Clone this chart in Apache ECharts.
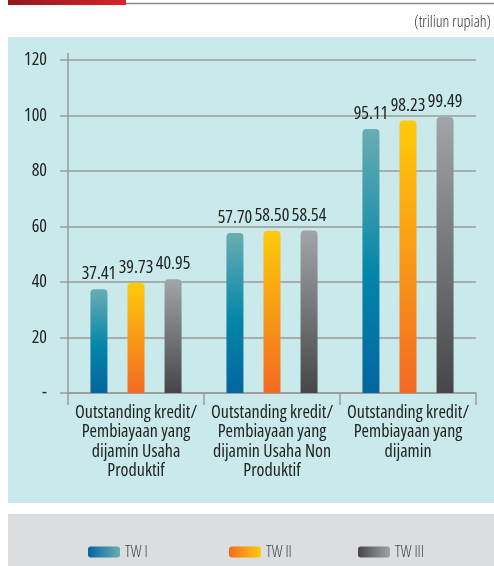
<!DOCTYPE html>
<html>
<head>
<meta charset="utf-8">
<script src="https://cdn.jsdelivr.net/npm/echarts@6/dist/echarts.min.js"></script>
<style>html,body{margin:0;padding:0;background:#fff;}#c{width:494px;height:566px;}</style>
</head>
<body>
<div id="c"></div>
<script>
var categories = [
  'Outstanding kredit/\nPembiayaan yang\ndijamin Usaha\nProduktif',
  'Outstanding kredit/\nPembiayaan yang\ndijamin Usaha Non\nProduktif',
  'Outstanding kredit/\nPembiayaan yang\ndijamin'
];
var seriesNames = ['TW I', 'TW II', 'TW III'];
var tw1 = [37.41, 57.70, 95.11];
var tw2 = [39.73, 58.50, 98.23];
var tw3 = [40.95, 58.54, 99.49];
var yTicks = [0, 20, 40, 60, 80, 100, 120];

var FONT = "'Open Sans','Roboto Condensed',sans-serif";
var COND = 'condensed';
function vgrad(stops){return new echarts.graphic.LinearGradient(0,0,0,1,stops);}
function hgrad(stops){return new echarts.graphic.LinearGradient(0,0,1,0,stops);}
var barColors = [
  vgrad([{offset:0,color:'#6aadb3'},{offset:0.55,color:'#0386a8'},{offset:1,color:'#0565a0'}]),
  vgrad([{offset:0,color:'#ffca0a'},{offset:1,color:'#f26a22'}]),
  vgrad([{offset:0,color:'#a3a4a8'},{offset:1,color:'#464648'}])
];
var legendColors = [
  hgrad([{offset:0,color:'#0565a0'},{offset:1,color:'#6aadb3'}]),
  hgrad([{offset:0,color:'#f26a22'},{offset:1,color:'#ffca0a'}]),
  hgrad([{offset:0,color:'#464648'},{offset:1,color:'#a3a4a8'}])
];
var dataSets = [tw1, tw2, tw3];
var legendLeft = [83, 224, 353];

var chart = echarts.init(document.getElementById('c'), null, {renderer:'canvas'});
var series = dataSets.map(function(d,i){
  return {
    name: seriesNames[i], type:'bar', data:d, barWidth:17, barGap:'118%',
    itemStyle:{color:barColors[i], borderRadius:[4,4,0,0]},
    label:{show:true, position:'top', distance:6, fontFamily:FONT, fontWeight:COND, fontSize:18, color:'#222',
      formatter:function(p){return p.value.toFixed(2);}},
    z:3
  };
});
var legends = seriesNames.map(function(n,i){
  return {
    data:[{name:n, itemStyle:{color:legendColors[i]}}],
    left:legendLeft[i], top:539, icon:'roundRect', itemWidth:32, itemHeight:11, itemGap:8,
    textStyle:{fontFamily:FONT, fontWeight:'300 condensed', fontSize:16, color:'#444'}, selectedMode:false
  };
});
chart.setOption({
  animation:false,
  backgroundColor:'#fff',
  graphic:[
    {type:'rect', shape:{x:8,y:37,width:486,height:466}, style:{fill:'#c9e9ea'}, z:-10},
    {type:'rect', shape:{x:8,y:514,width:486,height:52}, style:{fill:'#dcdddf'}, z:-10},
    {type:'rect', shape:{x:8,y:0,width:118,height:5}, style:{fill:new echarts.graphic.LinearGradient(0,0,1,0,[{offset:0,color:'#8f1a1f'},{offset:1,color:'#d8232a'}])}, z:-10},
    {type:'line', shape:{x1:126,y1:3.5,x2:494,y2:3.5}, style:{stroke:'#8a8a8a', lineWidth:1.5}, z:-10},
    {type:'text', right:3, top:14, style:{text:'(triliun rupiah)', fontFamily:FONT, fontWeight:'300 condensed', fontSize:16, fill:'#333'}},
    {type:'line', shape:{x1:68,y1:53,x2:68,y2:60}, style:{stroke:'#9a9a9a', lineWidth:1.5}, z:5}
  ],
  legend:legends,
  grid:{left:68, right:18, top:60, bottom:173},
  xAxis:{
    type:'category', data:categories,
    axisLine:{lineStyle:{color:'#9a9a9a', width:1.5}},
    axisTick:{show:true, length:12, lineStyle:{color:'#9a9a9a', width:1.5}},
    axisLabel:{fontFamily:FONT, fontWeight:COND, fontSize:18, color:'#222', lineHeight:19.5, margin:10, interval:0}
  },
  yAxis:{
    type:'value', min:0, max:120, interval:20,
    axisLine:{show:true, lineStyle:{color:'#9a9a9a', width:1.5}},
    axisTick:{show:true, length:8, lineStyle:{color:'#9a9a9a', width:1.5}},
    splitLine:{lineStyle:{color:'#9a9a9a', width:1.5}},
    axisLabel:{fontFamily:FONT, fontWeight:COND, fontSize:18, color:'#222', margin:21,
      formatter:function(v){return v===0?'-':String(v);}}
  },
  series:series
});
</script>
</body>
</html>
